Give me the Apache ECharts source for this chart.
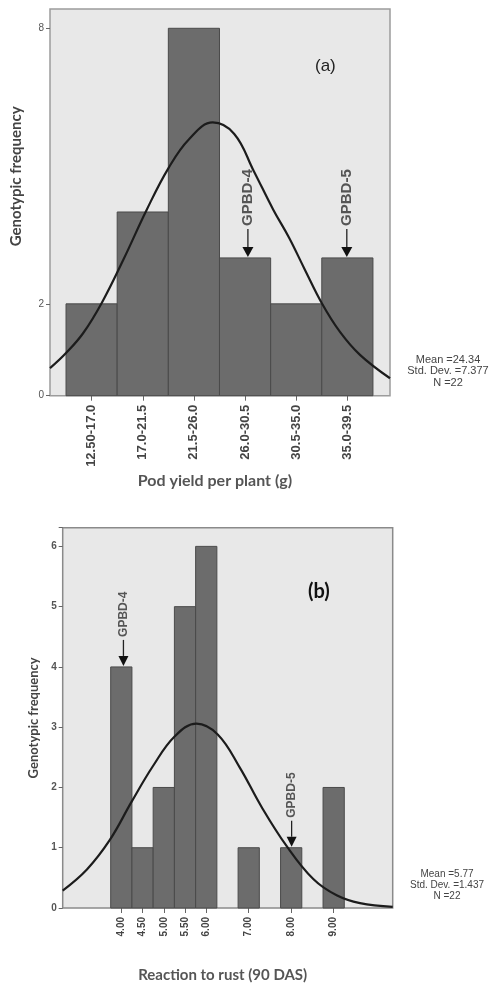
<!DOCTYPE html>
<html>
<head>
<meta charset="utf-8">
<script src="https://cdn.jsdelivr.net/npm/echarts@6/dist/echarts.min.js"></script>
<style>html,body{margin:0;padding:0;background:#fff;}#c{width:490px;height:984px;}</style>
</head>
<body>
<div id="c"></div>
<script>
// ---- Panel (a): Pod yield per plant ----
const podBinStart = [12.5, 17.0, 21.5, 26.0, 30.5, 35.0];
const podBinWidth = 4.5;
const podLabels = ['12.50-17.0', '17.0-21.5', '21.5-26.0', '26.0-30.5', '30.5-35.0', '35.0-39.5'];
const podCounts = [2, 4, 8, 3, 2, 3];
const podCurveX = [11.09, 12.5, 14.0, 15.64, 17.54, 19.6, 21.5, 23.3, 25.4, 27.3, 29.0, 30.73, 32.1, 33.5, 34.99, 36.6, 38.36, 41.0];
const podCurveY = [0.60, 0.93, 1.36, 2.02, 2.96, 4.05, 4.95, 5.58, 5.95, 5.70, 4.90, 4.05, 3.45, 2.75, 2.02, 1.39, 0.89, 0.38];
const podYTicks = [0, 2, 8];
const podNotes = ['GPBD-4', 'GPBD-5'];
const podNoteX = [28.5, 37.2];
const podNoteY = [3, 3];
const podStats = ['Mean =24.34', 'Std. Dev. =7.377', 'N =22'];

// ---- Panel (b): Reaction to rust ----
const rustValues = [4.0, 4.5, 5.0, 5.5, 6.0, 7.0, 8.0, 9.0];
const rustBinWidth = 0.5;
const rustLabels = ['4.00', '4.50', '5.00', '5.50', '6.00', '7.00', '8.00', '9.00'];
const rustCounts = [4, 1, 2, 5, 6, 1, 1, 2];
const rustCurveX = [2.62, 3.19, 3.73, 4.24, 4.75, 5.26, 5.77, 6.27, 6.79, 7.3, 7.89, 8.52, 9.07, 9.62, 10.39];
const rustCurveY = [0.29, 0.64, 1.13, 1.76, 2.36, 2.85, 3.06, 2.88, 2.33, 1.68, 1.03, 0.48, 0.21, 0.08, 0.02];
const rustNotes = ['GPBD-4', 'GPBD-5'];
const rustNoteX = [4.05, 8.01];
const rustNoteY = [4, 1];
const rustStats = ['Mean =5.77', 'Std. Dev. =1.437', 'N =22'];

const chart = echarts.init(document.getElementById('c'), null, {renderer: 'canvas'});

function barItem(fill, stroke) {
  return function (params, api) {
    const s = api.value(0), c = api.value(1), w = api.value(2);
    const p0 = api.coord([s, c]);
    const p1 = api.coord([s + w, 0]);
    return {
      type: 'rect',
      shape: {x: p0[0], y: p0[1], width: p1[0] - p0[0], height: p1[1] - p0[1]},
      style: {fill: fill, stroke: stroke, lineWidth: 1}
    };
  };
}

function noteItem(opt) {
  return function (params, api) {
    const p = api.coord([api.value(0), api.value(1)]);
    const x = p[0], y = p[1];
    const headH = opt.headH, headW = opt.headW;
    return {
      type: 'group',
      children: [
        {type: 'line', shape: {x1: x, y1: y - headH, x2: x, y2: y - headH - opt.stem},
          style: {stroke: '#222', lineWidth: 1.3}},
        {type: 'polygon', shape: {points: [[x - headW / 2, y - headH], [x + headW / 2, y - headH], [x, y - 1]]},
          style: {fill: '#111'}},
        {type: 'text', x: x, y: y - headH - opt.stem - 3, rotation: Math.PI / 2,
          style: {text: api.value(2), font: opt.font, fill: '#555', align: 'left', verticalAlign: 'middle'}}
      ]
    };
  };
}

const option = {
  animation: false,
  backgroundColor: '#ffffff',
  grid: [
    {left: 50, top: 9, width: 340, height: 386.7, show: true, backgroundColor: '#e8e8e8', borderColor: '#9c9c9c', borderWidth: 1.5},
    {left: 62.7, top: 527.7, width: 330, height: 381.3, show: true, backgroundColor: '#e8e8e8', borderColor: '#8a8a8a', borderWidth: 1.5}
  ],
  xAxis: [
    {
      type: 'value', gridIndex: 0, min: 11.09, max: 41.0,
      splitLine: {show: false},
      axisLine: {show: false},
      axisTick: {show: true, length: 5, lineStyle: {color: '#666'},
        customValues: podBinStart.map(s => s + podBinWidth / 2)},
      axisLabel: {
        customValues: podBinStart.map(s => s + podBinWidth / 2),
        rotate: 90, margin: 9,
        fontFamily: 'Liberation Sans', fontWeight: 'bold', fontSize: 13, color: '#444',
        formatter: function (v) {
          const i = podBinStart.findIndex(s => Math.abs(s + podBinWidth / 2 - v) < 1e-6);
          return i >= 0 ? podLabels[i] : '';
        }
      },
      name: 'Pod yield per plant (g)', nameLocation: 'middle', nameGap: 77,
      nameTextStyle: {fontFamily: 'Lato', fontWeight: 'bold', fontSize: 16, color: '#555', padding: [0, 10, 0, 0]}
    },
    {
      type: 'value', gridIndex: 1, min: 2.62, max: 10.39,
      splitLine: {show: false},
      axisLine: {show: false},
      axisTick: {show: true, length: 5, lineStyle: {color: '#666'}, customValues: rustValues},
      axisLabel: {
        customValues: rustValues,
        rotate: 90, margin: 9,
        fontFamily: 'Liberation Sans', fontWeight: 'bold', fontSize: 10, color: '#444',
        formatter: function (v) {
          const i = rustValues.findIndex(s => Math.abs(s - v) < 1e-6);
          return i >= 0 ? rustLabels[i] : '';
        }
      },
      name: 'Reaction to rust (90 DAS)', nameLocation: 'middle', nameGap: 60,
      nameTextStyle: {fontFamily: 'Lato', fontWeight: 'bold', fontSize: 15, color: '#555', padding: [0, 10, 0, 0]}
    }
  ],
  yAxis: [
    {
      type: 'value', gridIndex: 0, min: 0, max: 8.42,
      splitLine: {show: false},
      axisLine: {show: false},
      axisTick: {show: true, length: 4, lineStyle: {color: '#666'}, customValues: podYTicks},
      axisLabel: {customValues: podYTicks, margin: 6, fontFamily: 'Liberation Sans', fontSize: 10, color: '#555'},
      name: 'Genotypic frequency', nameLocation: 'middle', nameGap: 26,
      nameTextStyle: {fontFamily: 'Lato', fontWeight: 'bold', fontSize: 15, color: '#444', padding: [0, 0, 0, 52]}
    },
    {
      type: 'value', gridIndex: 1, min: 0, max: 6.31, interval: 1,
      splitLine: {show: false},
      axisLine: {show: false},
      axisTick: {show: true, length: 4, lineStyle: {color: '#666'}},
      axisLabel: {margin: 6, fontFamily: 'Liberation Sans', fontWeight: 'bold', fontSize: 10, color: '#555',
        formatter: function (v) { return v <= 6 ? String(v) : ''; }},
      name: 'Genotypic frequency', nameLocation: 'middle', nameGap: 20,
      nameTextStyle: {fontFamily: 'Lato', fontWeight: 'bold', fontSize: 13, color: '#444'}
    }
  ],
  series: [
    {
      type: 'custom', xAxisIndex: 0, yAxisIndex: 0,
      renderItem: barItem('#6c6c6c', '#4a4a4a'),
      encode: {x: 0, y: 1},
      data: podBinStart.map((s, i) => [s, podCounts[i], podBinWidth])
    },
    {
      type: 'line', xAxisIndex: 0, yAxisIndex: 0, smooth: 0.4, symbol: 'none',
      lineStyle: {color: '#1c1c1c', width: 2.2},
      data: podCurveX.map((x, i) => [x, podCurveY[i]])
    },
    {
      type: 'custom', xAxisIndex: 0, yAxisIndex: 0,
      renderItem: noteItem({headH: 11, headW: 11, stem: 18, font: 'bold 15px "Liberation Sans"'}),
      encode: {x: 0, y: 1},
      data: podNotes.map((n, i) => [podNoteX[i], podNoteY[i], n])
    },
    {
      type: 'custom', xAxisIndex: 1, yAxisIndex: 1,
      renderItem: barItem('#6c6c6c', '#4a4a4a'),
      encode: {x: 0, y: 1},
      data: rustValues.map((v, i) => [v - rustBinWidth / 2, rustCounts[i], rustBinWidth])
    },
    {
      type: 'line', xAxisIndex: 1, yAxisIndex: 1, smooth: 0.4, symbol: 'none',
      lineStyle: {color: '#1c1c1c', width: 2.2},
      data: rustCurveX.map((x, i) => [x, rustCurveY[i]])
    },
    {
      type: 'custom', xAxisIndex: 1, yAxisIndex: 1,
      renderItem: noteItem({headH: 11, headW: 10, stem: 16, font: 'bold 12px "Liberation Sans"'}),
      encode: {x: 0, y: 1},
      data: rustNotes.map((n, i) => [rustNoteX[i], rustNoteY[i], n])
    }
  ],
  graphic: [
    {type: 'text', left: 315, top: 58, style: {text: '(a)', font: '17px "Liberation Sans"', fill: '#222'}},
    {type: 'text', left: 308, top: 582, style: {text: '(b)', font: 'bold 20px Lato', fill: '#111'}},
    {type: 'text', x: 448, y: 354, style: {text: podStats.join('\n'), font: '11px "Liberation Sans"', lineHeight: 11.5, fill: '#444', align: 'center'}},
    {type: 'text', x: 447, y: 869, style: {text: rustStats.join('\n'), font: '10px "Liberation Sans"', lineHeight: 11, fill: '#444', align: 'center'}}
  ]
};
chart.setOption(option);
</script>
</body>
</html>
